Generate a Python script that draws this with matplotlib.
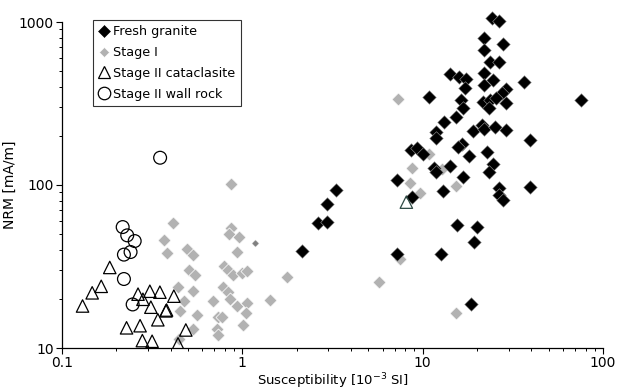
import matplotlib
matplotlib.use("Agg")
import matplotlib.pyplot as plt
from matplotlib.lines import Line2D

plt.rcParams['font.family'] = ['DejaVu Sans']

# Fresh granite
granite_sus = [24.3, 26.5, 21.9, 28.0, 21.9, 23.5, 26.6, 14.1, 15.9, 17.3,
               17.1, 22.0, 24.4, 21.9, 29.0, 27.4, 36.3, 10.9, 16.3, 21.5,
               23.5, 25.6, 23.2, 28.9, 75.7, 16.7, 15.4, 13.1, 18.9, 21.4,
               22.0, 25.1, 28.8, 11.8, 11.8, 39.2, 8.66, 9.27, 10.1, 16.5,
               15.7, 18.0, 22.6, 14.1, 11.6, 11.8, 24.4, 23.4, 16.7, 7.22,
               12.9, 26.5, 26.4, 28.0, 39.2, 3.31, 8.72, 2.95, 2.63, 2.95,
               2.14, 7.19, 12.7, 15.5, 20.1, 19.3, 18.5]
granite_nrm = [1060, 1020, 800, 730, 670, 565, 570, 483, 458, 446,
               395, 488, 442, 412, 389, 369, 428, 348, 332, 322,
               332, 342, 297, 317, 332, 297, 260, 245, 215, 235,
               221, 228, 218, 212, 194, 190, 164, 168, 154, 179,
               170, 150, 159, 130, 128, 120, 135, 120, 112, 107,
               92.5, 96.5, 86.3, 80.9, 96.9, 93.6, 84.5, 76.0, 58.6, 59.2,
               39.4, 37.6, 37.9, 56.5, 55.2, 44.7, 18.7]

# Stage I
stage1_sus = [0.414, 0.367, 0.380, 0.494, 0.534, 0.508, 0.546, 0.441, 0.530, 0.476,
              0.451, 0.558, 0.530, 0.445, 0.689, 0.734, 0.725, 0.734, 0.777, 0.834,
              0.852, 0.860, 0.869, 0.845, 0.960, 0.936, 0.795, 0.834, 0.889, 0.994,
              1.055, 0.938, 1.059, 1.046, 1.006, 0.775, 1.43, 1.78, 5.70, 15.4,
              7.46, 8.47, 9.62, 15.4, 7.30, 8.77, 10.8, 12.8]
stage1_nrm = [58.4, 45.8, 38.5, 40.7, 37.1, 30.0, 28.0, 23.7, 22.3, 19.4,
              16.9, 15.9, 13.0, 11.3, 19.5, 15.5, 13.1, 12.1, 23.8, 22.0,
              19.9, 101.7, 54.2, 49.8, 47.7, 38.8, 31.7, 30.2, 28.0, 28.8,
              29.8, 18.2, 18.8, 16.4, 13.9, 15.5, 19.7, 27.2, 25.4, 16.4,
              35.0, 102.8, 88.7, 98.6, 336, 127, 154, 126]

# Single small sample
extra_sus = [1.18]
extra_nrm = [44.3]

# Stage II cataclasite
cata_sus = [0.130, 0.147, 0.165, 0.184, 0.228, 0.271, 0.279, 0.316, 0.264, 0.281,
            0.307, 0.311, 0.349, 0.377, 0.380, 0.340, 0.417, 0.486, 0.440, 8.12]
cata_nrm = [18.1, 21.8, 23.9, 31.2, 13.3, 13.7, 11.1, 11.0, 21.4, 19.9,
            22.3, 17.8, 22.0, 16.9, 17.1, 14.9, 20.8, 12.9, 10.6, 78.5]

# Stage II wall rock
wall_sus = [0.217, 0.230, 0.253, 0.240, 0.2205, 0.2205, 0.2465, 0.350]
wall_nrm = [55.2, 49.1, 45.3, 38.8, 37.4, 26.5, 18.5, 147]

fig = plt.figure(figsize=(6.18, 3.92), dpi=100)
ax = fig.add_axes([62 / 618, 1 - 348 / 392, (603 - 62) / 618, (348 - 22) / 392])

gray = '#b2b2b2'
ax.scatter(stage1_sus, stage1_nrm, marker='D', s=44, c=gray,
           edgecolors='white', linewidths=0.5, zorder=2)
ax.scatter(extra_sus, extra_nrm, marker='D', s=14, c='#808080',
           edgecolors='white', linewidths=0.3, zorder=2)
ax.scatter(granite_sus, granite_nrm, marker='D', s=48, c='black',
           edgecolors='#9a9a9a', linewidths=0.4, zorder=3, clip_on=False)
cata_edges = ['black'] * (len(cata_sus) - 1) + ['#2e4a44']
ax.scatter(cata_sus, cata_nrm, marker='^', s=80, facecolors='none',
           edgecolors=cata_edges, linewidths=0.9, zorder=4)
ax.scatter(wall_sus, wall_nrm, marker='o', s=85, facecolors='none',
           edgecolors='black', linewidths=0.9, zorder=4)

ax.set_xscale('log')
ax.set_yscale('log')
ax.set_xlim(0.1, 100)
ax.set_ylim(10, 1000)
ax.set_xticks([0.1, 1, 10, 100])
ax.set_xticklabels(['0.1', '1', '10', '100'])
ax.set_yticks([10, 100, 1000])
ax.set_yticklabels(['10', '100', '1000'])

for side in ('top', 'right'):
    ax.spines[side].set_visible(False)
for side in ('left', 'bottom'):
    ax.spines[side].set_linewidth(0.9)
ax.tick_params(which='major', direction='out', length=4, width=0.8,
               labelsize=10, pad=2)
ax.tick_params(which='minor', direction='out', length=2.5, width=0.7)

ax.set_xlabel('Susceptibility [10$^{-3}$ SI]', fontsize=9.5, labelpad=1)
ax.set_ylabel('NRM [mA/m]', fontsize=10, labelpad=1)

handles = [
    Line2D([], [], marker='D', ls='none', markersize=6.5, markerfacecolor='black',
           markeredgecolor='black', markeredgewidth=0.4, label='Fresh granite'),
    Line2D([], [], marker='D', ls='none', markersize=5.5, markerfacecolor=gray,
           markeredgecolor='white', markeredgewidth=0.4, label='Stage I'),
    Line2D([], [], marker='^', ls='none', markersize=9, markerfacecolor='none',
           markeredgecolor='black', markeredgewidth=0.9, label='Stage II cataclasite'),
    Line2D([], [], marker='o', ls='none', markersize=9, markerfacecolor='none',
           markeredgecolor='black', markeredgewidth=0.9, label='Stage II wall rock'),
]
leg = ax.legend(handles=handles, loc='upper left',
                bbox_to_anchor=(93 / 618, 1 - 20 / 392), bbox_transform=fig.transFigure,
                borderaxespad=0, fontsize=9.2, frameon=True, fancybox=False,
                handlelength=0.9, handletextpad=0.3, borderpad=0.4,
                labelspacing=0.62, edgecolor='black')
leg.get_frame().set_linewidth(0.8)

fig.savefig('out.png', dpi=100)
